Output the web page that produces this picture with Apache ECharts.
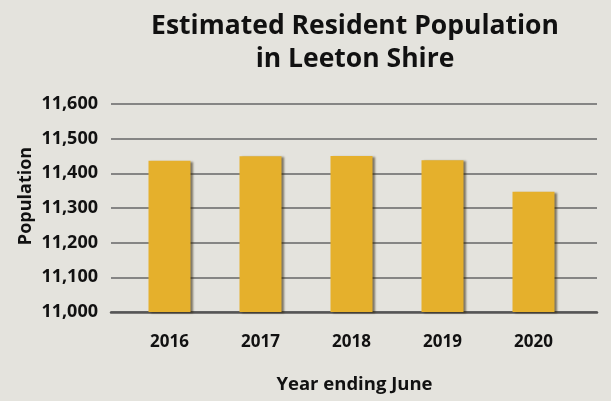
<!DOCTYPE html>
<html>
<head>
<meta charset="utf-8">
<script src="https://cdn.jsdelivr.net/npm/echarts@6/dist/echarts.min.js"></script>
<style>
  html, body { margin: 0; padding: 0; background: #e4e3dd; }
  #chart { width: 611px; height: 401px; }
</style>
</head>
<body>
<div id="chart"></div>
<script>
const years = ['2016', '2017', '2018', '2019', '2020'];
const population = [11436, 11449, 11450, 11438, 11347];
const yTicks = { min: 11000, max: 11600, step: 100 };

const font = '"Open Sans", "DejaVu Sans", sans-serif';
const chart = echarts.init(document.getElementById('chart'));

chart.setOption({
  backgroundColor: '#e4e3dd',
  title: {
    text: 'Estimated Resident Population\nin Leeton Shire',
    left: 350,
    textAlign: 'center',
    top: 5,
    textStyle: { fontFamily: font, fontWeight: 'bold', fontSize: 26.5, lineHeight: 33, color: '#111' }
  },
  grid: [
    { left: 111, right: 14, top: 104, bottom: 89 },
    { left: 124, right: 32, top: 104, bottom: 89 }
  ],
  xAxis: [
    {
      gridIndex: 0, type: 'category', data: years,
      axisLine: { lineStyle: { color: '#555', width: 2.5 } },
      axisTick: { show: false }, axisLabel: { show: false }
    },
    {
      gridIndex: 1, type: 'category', data: years,
      axisLine: { show: false }, axisTick: { show: false },
      axisLabel: { margin: 22, fontFamily: font, fontWeight: 'bold', fontSize: 17, color: '#111' },
      name: 'Year ending June', nameLocation: 'middle', nameGap: 63,
      nameTextStyle: { fontFamily: font, fontWeight: 'bold', fontSize: 18.5, color: '#111', padding: [0, 0, 0, 6] }
    }
  ],
  yAxis: [
    {
      gridIndex: 0, type: 'value', min: yTicks.min, max: yTicks.max, interval: yTicks.step,
      axisLine: { show: false }, axisTick: { show: false },
      splitLine: { lineStyle: { color: '#666', width: 1.5 } },
      axisLabel: {
        margin: 13, fontFamily: font, fontWeight: 'bold', fontSize: 18, color: '#111',
        formatter: v => v.toLocaleString('en-US')
      },
      name: 'Population', nameLocation: 'middle', nameGap: 76, nameRotate: 90,
      nameMoveOverlap: false,
      nameTextStyle: { fontFamily: font, fontWeight: 'bold', fontSize: 18, color: '#111', padding: [0, 0, 0, 24] }
    },
    {
      gridIndex: 1, type: 'value', min: yTicks.min, max: yTicks.max, interval: yTicks.step,
      show: false
    }
  ],
  series: [{
    type: 'bar',
    xAxisIndex: 1, yAxisIndex: 1,
    data: population,
    barWidth: 42,
    itemStyle: {
      color: '#e5b02c',
      shadowColor: 'rgba(40,30,0,0.55)',
      shadowBlur: 2,
      shadowOffsetX: 2,
      shadowOffsetY: 1
    }
  }]
});
</script>
</body>
</html>
